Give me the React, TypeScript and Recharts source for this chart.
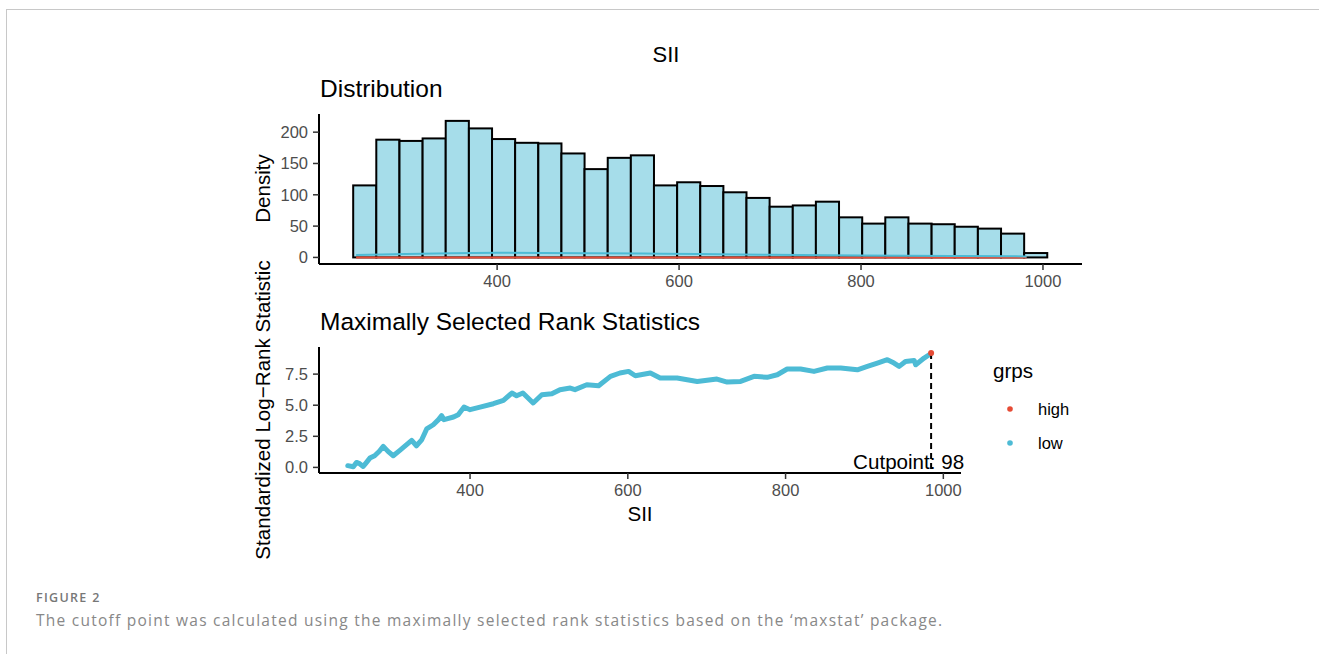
import React from 'react';
import { ComposedChart, Bar, Line, LineChart, XAxis, YAxis, ReferenceLine, ReferenceDot } from 'recharts';

// ---------- data ----------
const binMids = [254.5, 279.9, 305.4, 330.8, 356.2, 381.7, 407.1, 432.5, 458.0, 483.4, 508.8, 534.3, 559.7, 585.1, 610.6, 636.0, 661.4, 686.8, 712.3, 737.7, 763.1, 788.6, 814.0, 839.4, 864.9, 890.3, 915.7, 941.2, 966.6, 992.0];
const binCounts = [115, 188, 186, 190, 218, 206, 189, 183, 182, 166, 141, 159, 163, 115, 120, 114, 104, 95, 81, 83, 89, 64, 54, 64, 54, 53, 49, 46, 38, 7];
const BIN_WIDTH = 25.43;

const densityX = [245, 300, 350, 400, 450, 500, 560, 620, 700, 800, 900, 982];
const densityLow = [3.7, 5.5, 6.8, 7.3, 7.2, 6.8, 6.2, 5.3, 4.2, 3.2, 2.3, 1.6];
const densityHigh = [0, 0, 0, 0, 0, 0, 0, 0, 0, 0, 0, 0];

const statX = [245, 252, 256, 260, 264.5, 268, 273, 279, 285, 290, 296, 302.6, 311, 319.6, 326, 332, 338.7, 345, 353.4, 360, 364, 367, 379, 385, 392.4, 400, 412.7, 429.6, 442.3, 453, 459, 467, 480, 491, 503.7, 514, 527, 533, 548, 563, 578, 590, 601, 609.5, 628.6, 641, 662.5, 688, 713, 726, 743, 760, 776.7, 789.5, 802, 819, 836, 853, 870, 891, 903.7, 916.4, 929, 937.5, 944, 952, 963, 965, 975.6, 984];
const statY = [0.14, 0.05, 0.4, 0.3, 0.08, 0.35, 0.75, 0.94, 1.3, 1.69, 1.29, 0.94, 1.37, 1.83, 2.17, 1.74, 2.22, 3.09, 3.43, 3.84, 4.16, 3.84, 4.05, 4.24, 4.85, 4.64, 4.85, 5.12, 5.39, 5.98, 5.76, 5.98, 5.18, 5.84, 5.92, 6.25, 6.38, 6.25, 6.65, 6.57, 7.32, 7.59, 7.72, 7.37, 7.59, 7.19, 7.19, 6.91, 7.1, 6.86, 6.91, 7.32, 7.24, 7.45, 7.91, 7.91, 7.72, 7.99, 7.99, 7.85, 8.12, 8.39, 8.66, 8.39, 8.12, 8.52, 8.6, 8.25, 8.79, 9.14];

const CUTPOINT = 984.5;
const CUTPOINT_STAT = 9.2;
const CUTPOINT_LABEL_VISIBLE = 'Cutpoint: 98';

const xTicks = [400, 600, 800, 1000];
const densityTicks = [0, 50, 100, 150, 200];
const statTicks = [0, 2.5, 5, 7.5];

const groups = ['high', 'low'];
const COLORS: Record<string, string> = { high: '#E64B35', low: '#4DBBD5' };

// ---------- derived tables ----------
const histData = binMids.map((m, i) => ({ mid: m, count: binCounts[i] }));
const densLowData = densityX.map((x, i) => ({ mid: x, dens: densityLow[i] }));
const densHighData = densityX.map((x, i) => ({ mid: x, dens: densityHigh[i] }));
const statData = statX.map((x, i) => ({ x, stat: statY[i] }));

const FONT = '"Liberation Sans", Arial, Helvetica, sans-serif';
const tickStyle = { fill: '#4D4D4D', fontSize: 16.5, fontFamily: FONT };
const axisLineStyle = { stroke: '#000', strokeWidth: 2 };
const tickLineStyle = { stroke: '#333', strokeWidth: 1.5 };

// top chart layout
const T_W = 1100;
const T_MR = 18;
const T_YW = 319;
const T_DOMAIN: [number, number] = [204.2, 1042.9];
const T_PLOT_W = T_W - T_MR - T_YW;
const BAR_PX = (T_PLOT_W * BIN_WIDTH) / (T_DOMAIN[1] - T_DOMAIN[0]);

// bottom chart layout
const B_W = 1000;
const B_MR = 39;

// histogram bar: centred on the bin mid computed by the axis scale, one bin wide
const HistBar = (props: any) => {
  const { x, y, width, height } = props;
  if (x == null || y == null) return null;
  const cx = x + (width || 0) / 2;
  return (
    <rect x={cx - BAR_PX / 2} y={y} width={BAR_PX} height={Math.max(0, height)} fill="#A6DDEA" stroke="#000" strokeWidth={2} />
  );
};

const CutLabel = (props: any) => {
  const vb = props.viewBox || {};
  const cx = (vb.x || 0) + (vb.width || 0) / 2;
  const bottom = (vb.y || 0) + (vb.height || 0);
  return (
    <text x={cx - 78} y={bottom - 4} textAnchor="start" fontSize={20.6} fontFamily={FONT} fill="#000">
      {CUTPOINT_LABEL_VISIBLE}
    </text>
  );
};

export default function App() {
  return (
    <div style={{ position: 'fixed', left: 0, top: 0, width: 1319, height: 654, background: '#fff', overflow: 'hidden' }}>
      {/* Distribution histogram */}
      <div style={{ position: 'absolute', left: 0, top: 0 }}>
        <ComposedChart width={T_W} height={300} data={histData} margin={{ top: 114, right: T_MR, bottom: 0, left: 0 }} barCategoryGap={0} barGap={0}>
          <XAxis dataKey="mid" type="number" domain={T_DOMAIN} ticks={xTicks} allowDataOverflow height={36}
            tickSize={6} tickMargin={5} axisLine={axisLineStyle} tickLine={tickLineStyle} tick={tickStyle} />
          <YAxis type="number" domain={[-10.5, 229]} ticks={densityTicks} allowDataOverflow width={T_YW}
            tickSize={6} tickMargin={5} axisLine={axisLineStyle} tickLine={tickLineStyle} tick={tickStyle} />
          <Bar dataKey="count" shape={<HistBar />} fill="#A6DDEA" stroke="#000" strokeWidth={2} isAnimationActive={false} />
          <Line data={densHighData} dataKey="dens" type="monotone" stroke={COLORS.high} strokeWidth={2} dot={false} isAnimationActive={false} />
          <Line data={densLowData} dataKey="dens" type="monotone" stroke={COLORS.low} strokeWidth={2} dot={false} isAnimationActive={false} />
        </ComposedChart>
      </div>

      {/* Maximally selected rank statistics */}
      <div style={{ position: 'absolute', left: 0, top: 0 }}>
        <LineChart width={B_W} height={520} data={statData} margin={{ top: 347, right: B_MR, bottom: 0, left: 0 }}>
          <XAxis dataKey="x" type="number" domain={[208.5, 1022.4]} ticks={xTicks} allowDataOverflow height={47}
            tickSize={6} tickMargin={5} axisLine={axisLineStyle} tickLine={tickLineStyle} tick={tickStyle} />
          <YAxis type="number" domain={[-0.45, 9.68]} ticks={statTicks} allowDataOverflow width={319}
            tickFormatter={(v: number) => v.toFixed(1)}
            tickSize={6} tickMargin={5} axisLine={axisLineStyle} tickLine={tickLineStyle} tick={tickStyle} />
          <Line dataKey="stat" type="linear" stroke={COLORS.low} strokeWidth={5} strokeLinejoin="round" strokeLinecap="round" dot={false} isAnimationActive={false} />
          <ReferenceLine segment={[{ x: CUTPOINT, y: CUTPOINT_STAT }, { x: CUTPOINT, y: -0.45 }]} stroke="#000" strokeWidth={2} strokeDasharray="6 4" label={<CutLabel />} ifOverflow="visible" />
          <ReferenceDot x={CUTPOINT} y={CUTPOINT_STAT} r={3} fill={COLORS.high} stroke="none" ifOverflow="visible" />
        </LineChart>
      </div>

      {/* text overlay */}
      <svg width={1319} height={654} style={{ position: 'absolute', left: 0, top: 0, pointerEvents: 'none' }}>
        <line x1={6} y1={9.5} x2={1319} y2={9.5} stroke="#c8c8c8" strokeWidth={1} />
        <line x1={6.5} y1={9} x2={6.5} y2={654} stroke="#c8c8c8" strokeWidth={1} />

        <text x={666} y={62} textAnchor="middle" fontSize={22} fontFamily={FONT} fill="#000">SII</text>
        <text x={320} y={97} fontSize={24.5} fontFamily={FONT} fill="#000">Distribution</text>
        <text x={320} y={330} fontSize={24.5} fontFamily={FONT} fill="#000">Maximally Selected Rank Statistics</text>

        <text transform="translate(270,188.5) rotate(-90)" textAnchor="middle" fontSize={20.6} fontFamily={FONT} fill="#000">Density</text>
        <text transform="translate(270,410) rotate(-90)" textAnchor="middle" fontSize={20.6} fontFamily={FONT} fill="#000">Standardized Log−Rank Statistic</text>
        <text x={640} y={521} textAnchor="middle" fontSize={20.6} fontFamily={FONT} fill="#000">SII</text>

        <text x={993} y={378} fontSize={20.6} fontFamily={FONT} fill="#000">grps</text>
        {groups.map((g, i) => (
          <g key={g}>
            <circle cx={1010} cy={409 + i * 34} r={2.8} fill={COLORS[g]} />
            <text x={1038} y={415 + i * 34} fontSize={16.5} fontFamily={FONT} fill="#000">{g}</text>
          </g>
        ))}

        <text x={36} y={602} fontSize={12.5} fontWeight={600} letterSpacing={1.3} fontFamily='"Open Sans", sans-serif' fill="#777">FIGURE 2</text>
        <text x={36} y={626} fontSize={15.5} letterSpacing={1.25} fontFamily='"Open Sans", sans-serif' fill="#888">The cutoff point was calculated using the maximally selected rank statistics based on the ‘maxstat’ package.</text>
      </svg>
    </div>
  );
}
